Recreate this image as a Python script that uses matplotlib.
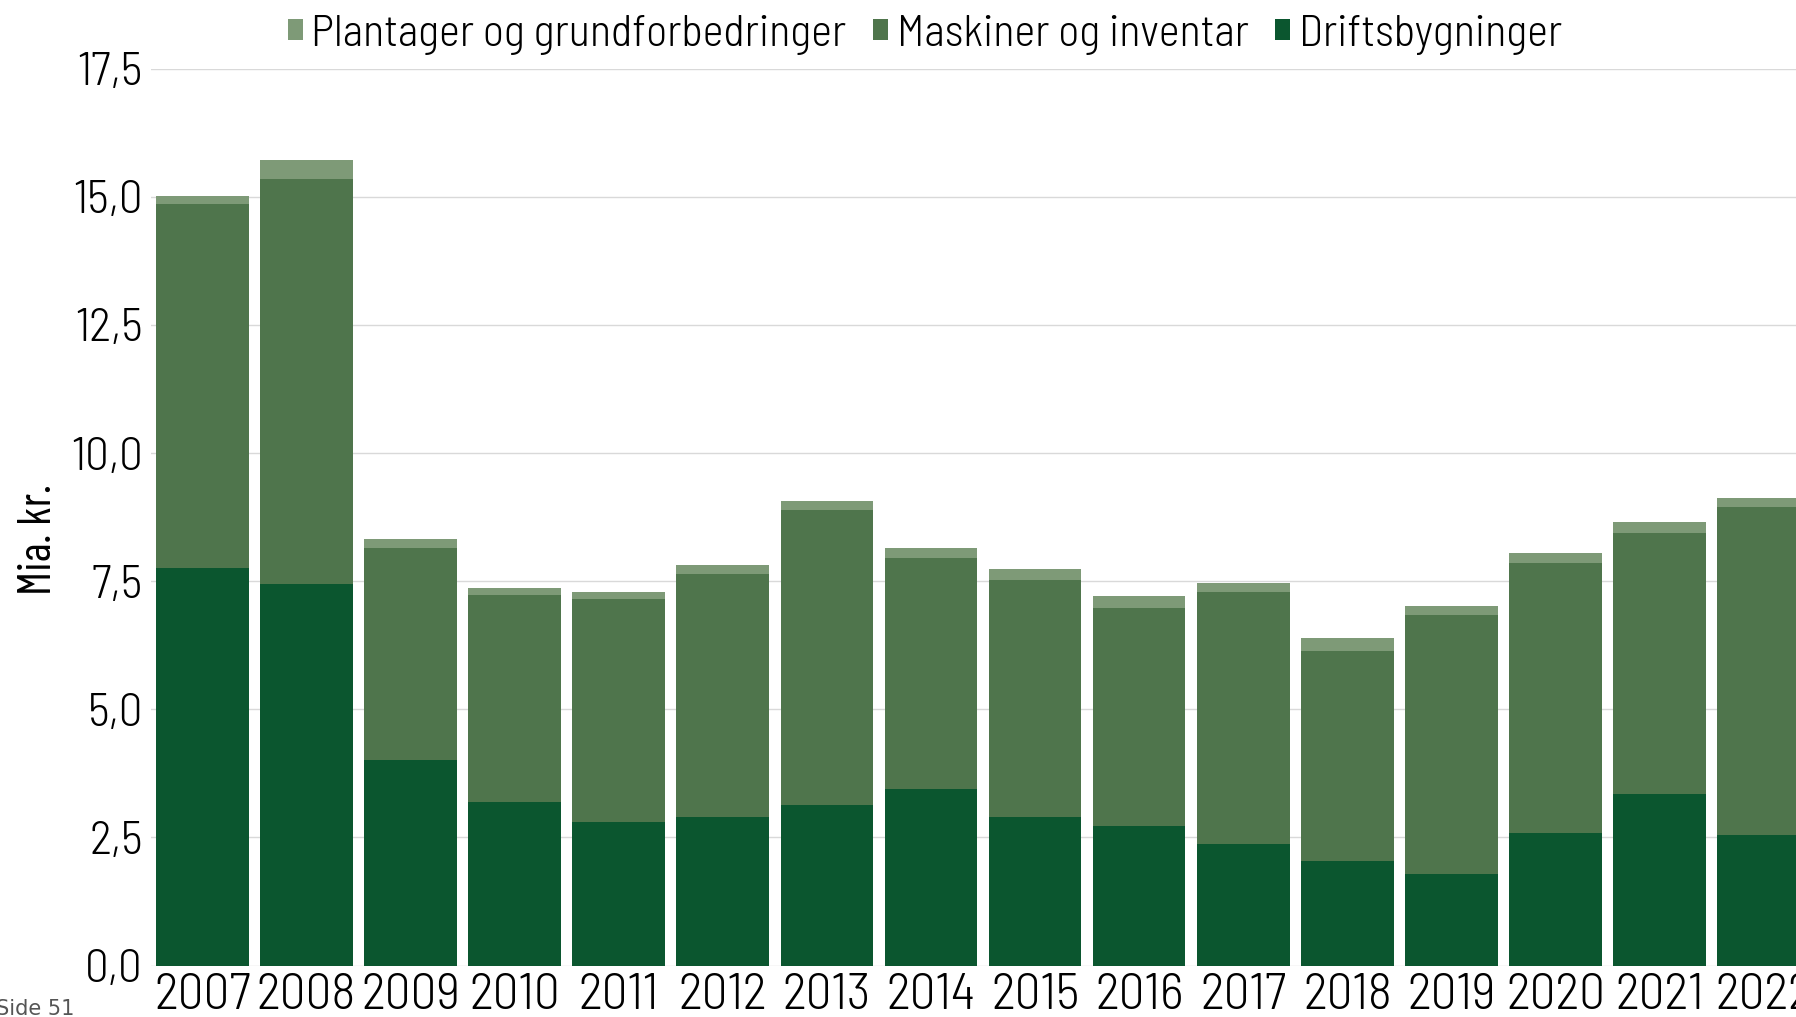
import matplotlib
matplotlib.use("Agg")
import matplotlib.pyplot as plt
import numpy as np
from matplotlib.ticker import FuncFormatter, MultipleLocator

plt.rcParams['font.family'] = ['Barlow Semi Condensed', 'DejaVu Sans']
plt.rcParams['font.stretch'] = 'semi-condensed'
plt.rcParams['font.weight'] = 300

# Investeringer i landbruget, mia. kr.
years = [2007, 2008, 2009, 2010, 2011, 2012, 2013, 2014,
         2015, 2016, 2017, 2018, 2019, 2020, 2021, 2022]
driftsbygninger = [7.75, 7.44, 4.02, 3.19, 2.81, 2.90, 3.13, 3.44,
                   2.90, 2.72, 2.37, 2.05, 1.79, 2.59, 3.35, 2.55]
maskiner = [7.10, 7.91, 4.13, 4.05, 4.34, 4.74, 5.76, 4.51,
            4.63, 4.25, 4.91, 4.09, 5.05, 5.27, 5.09, 6.39]
plantager = [0.16, 0.36, 0.18, 0.13, 0.13, 0.18, 0.18, 0.20,
             0.20, 0.24, 0.19, 0.25, 0.17, 0.19, 0.21, 0.18]

c_drift = "#0b562f"
c_mask = "#4f754c"
c_plant = "#7e9a77"

fig = plt.figure(figsize=(17.96, 10.17), dpi=100)
ax = fig.add_axes([0.0842, 0.0505, 1 - 0.0842, 0.9325 - 0.0505])

x = np.array(years)
d = np.array(driftsbygninger)
m = np.array(maskiner)
p = np.array(plantager)
w = 0.89

b1 = ax.bar(x, d, width=w, color=c_drift, label="Driftsbygninger", zorder=3)
b2 = ax.bar(x, m, width=w, bottom=d, color=c_mask, label="Maskiner og inventar", zorder=3)
b3 = ax.bar(x, p, width=w, bottom=d + m, color=c_plant, label="Plantager og grundforbedringer", zorder=3)

ax.set_xlim(2007 - 0.49, 2022.31)
ax.set_ylim(0, 17.5)
ax.yaxis.set_major_locator(MultipleLocator(2.5))
ax.yaxis.set_major_formatter(FuncFormatter(lambda v, pos: f"{v:.1f}".replace(".", ",")))
ax.set_xticks(years)
ax.set_xticklabels([str(y) for y in years])

ax.grid(axis="y", color="#d9d9d9", linewidth=1.0, zorder=0)
for s in ax.spines.values():
    s.set_visible(False)
ax.tick_params(axis="both", length=0)
ax.tick_params(axis="y", pad=6, labelsize=34)
ax.tick_params(axis="x", pad=5, labelsize=37)

ax.set_ylabel("Mia. kr.", fontsize=33, family="Barlow Condensed", fontstretch="condensed",
              va="center")
ax.yaxis.set_label_coords(-0.068, 0.475)

ax.legend(handles=[b3, b2, b1], loc="center", bbox_to_anchor=(0.515, 0.966),
          bbox_transform=fig.transFigure, ncol=3, frameon=False, fontsize=32,
          handlelength=0.33, handleheight=0.33, handletextpad=0.2, columnspacing=0.6)

fig.text(-0.002, 0.002, "Side 51", fontsize=15, color="#555555", family="DejaVu Sans",
         fontweight="normal", ha="left", va="baseline")

fig.savefig("out.png", dpi=100)
